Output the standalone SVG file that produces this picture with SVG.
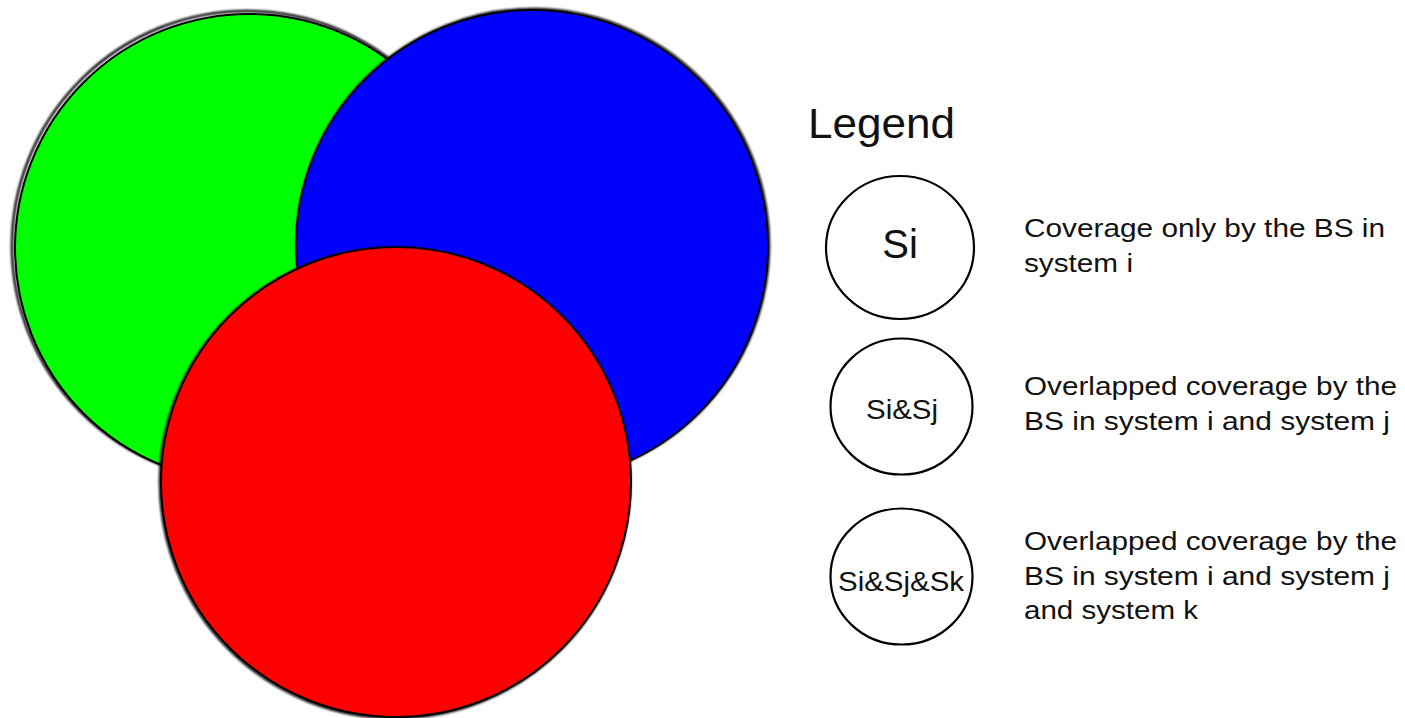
<svg xmlns="http://www.w3.org/2000/svg" width="1405" height="718" viewBox="0 0 1405 718">
<style>
.big{stroke:#000;stroke-width:2}
.shadow{fill:none;stroke:#000;stroke-width:2.5;filter:url(#blur)}
.leg{fill:#fff;stroke:#000;stroke-width:2.2}
text{font-family:"Liberation Sans",Arial,sans-serif;fill:#111}
.desc{font-size:26.5px}
</style>
<defs>
<filter id="blur" x="-5%" y="-5%" width="110%" height="110%"><feGaussianBlur stdDeviation="0.9"/></filter>
</defs>
<g id="green">
<circle class="shadow" cx="247" cy="246" r="235"/>
<circle class="big" cx="249" cy="248" r="234" fill="#00ff00"/>
</g>
<g id="blue">
<circle class="shadow" cx="533" cy="245" r="236"/>
<circle class="big" cx="532" cy="246" r="236" fill="#0000ff"/>
</g>
<g id="red">
<circle class="shadow" cx="395" cy="483" r="235"/>
<circle class="big" cx="396" cy="482" r="235" fill="#ff0000"/>
</g>
<g id="legend-title">
<text x="808" y="138" font-size="42" textLength="147" lengthAdjust="spacingAndGlyphs">Legend</text>
</g>
<g id="legend-si">
<ellipse class="leg" cx="900" cy="247.5" rx="74" ry="71.5"/>
<text x="900" y="258" font-size="40" text-anchor="middle">Si</text>
</g>
<g id="legend-sisj">
<ellipse class="leg" cx="901.5" cy="406.5" rx="71" ry="68"/>
<text x="902" y="419" font-size="28" text-anchor="middle" textLength="72" lengthAdjust="spacingAndGlyphs">Si&amp;Sj</text>
</g>
<g id="legend-sisjsk">
<ellipse class="leg" cx="901.5" cy="576.5" rx="71" ry="68"/>
<text x="901" y="591" font-size="28" text-anchor="middle" textLength="126" lengthAdjust="spacingAndGlyphs">Si&amp;Sj&amp;Sk</text>
</g>
<g id="desc-si">
<text class="desc" x="1024" y="237" textLength="361" lengthAdjust="spacingAndGlyphs">Coverage only by the BS in</text>
<text class="desc" x="1024" y="272" textLength="109" lengthAdjust="spacingAndGlyphs">system i</text>
</g>
<g id="desc-sisj">
<text class="desc" x="1024" y="395" textLength="373" lengthAdjust="spacingAndGlyphs">Overlapped coverage by the</text>
<text class="desc" x="1024" y="430" textLength="366" lengthAdjust="spacingAndGlyphs">BS in system i and system j</text>
</g>
<g id="desc-sisjsk">
<text class="desc" x="1024" y="550" textLength="373" lengthAdjust="spacingAndGlyphs">Overlapped coverage by the</text>
<text class="desc" x="1024" y="585" textLength="366" lengthAdjust="spacingAndGlyphs">BS in system i and system j</text>
<text class="desc" x="1024" y="619" textLength="174" lengthAdjust="spacingAndGlyphs">and system k</text>
</g>
</svg>
